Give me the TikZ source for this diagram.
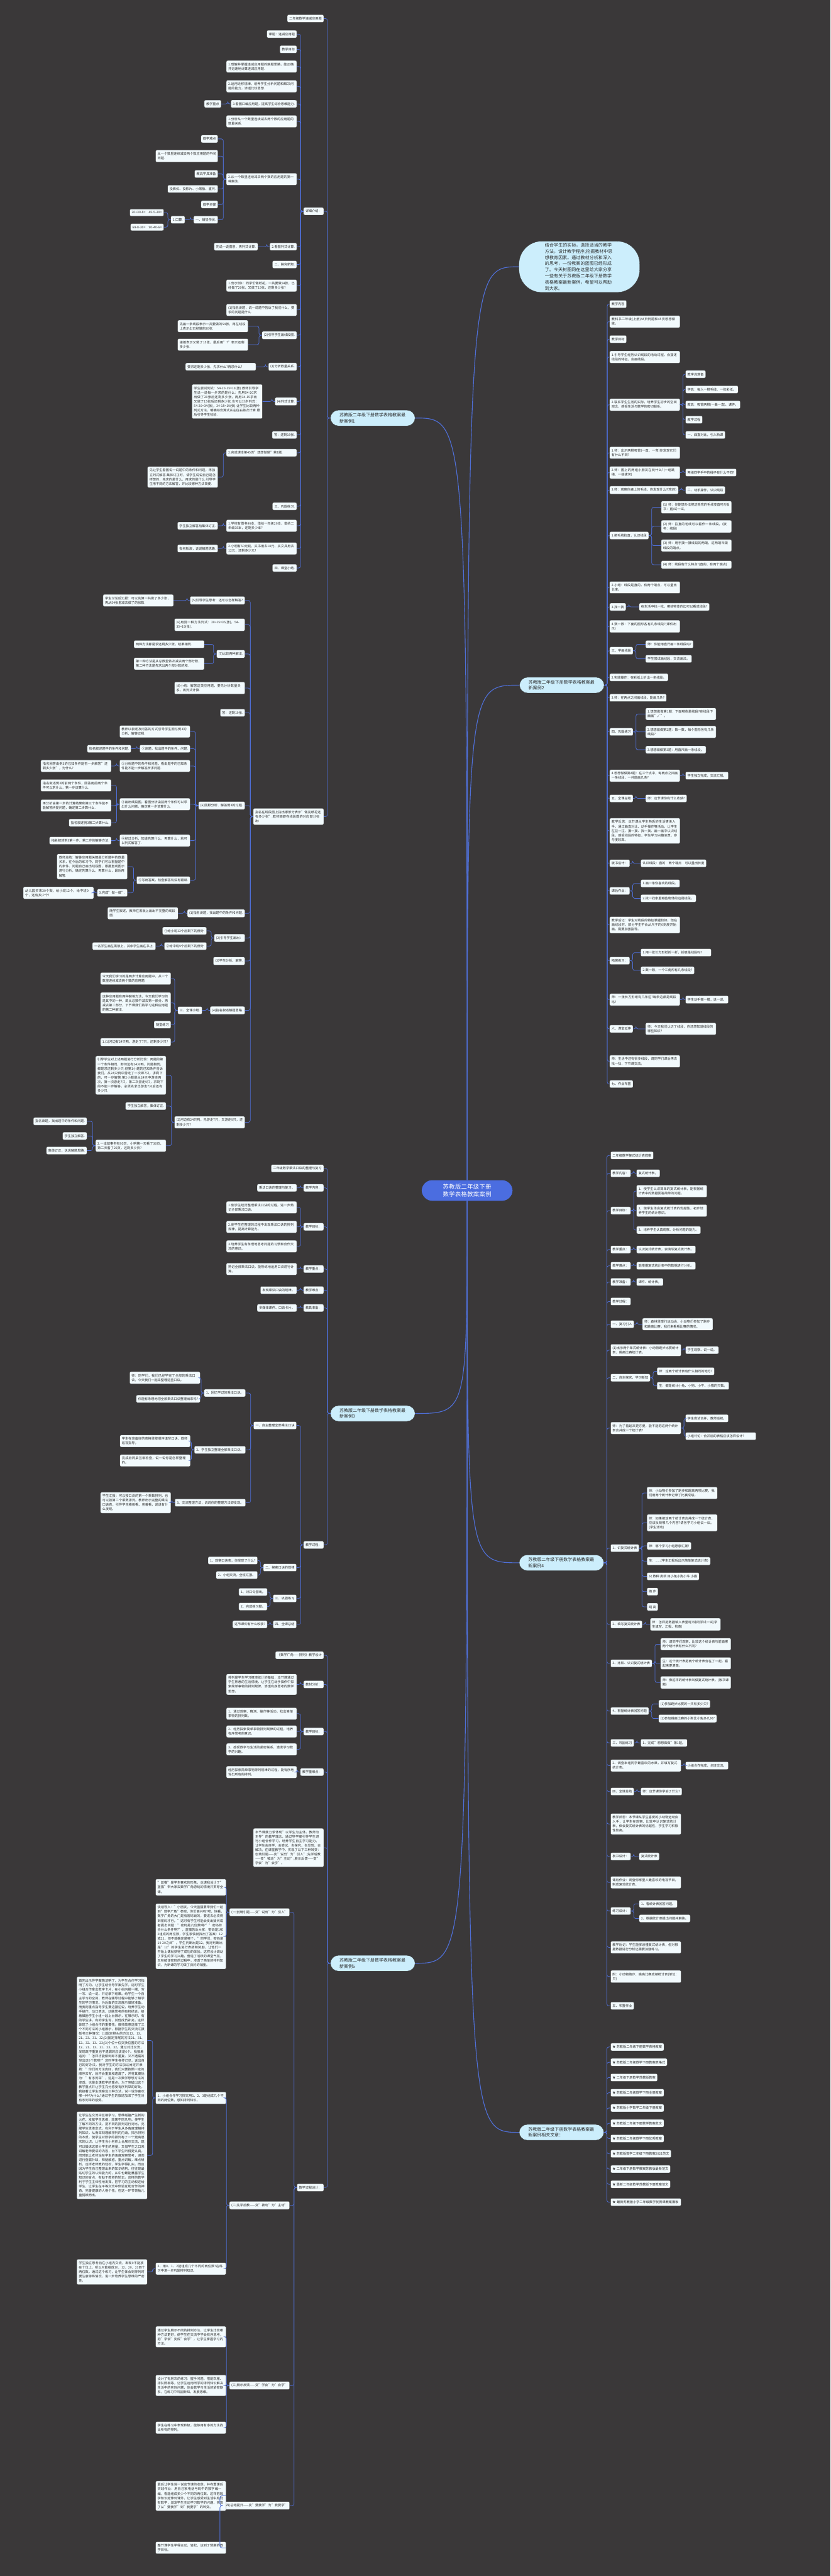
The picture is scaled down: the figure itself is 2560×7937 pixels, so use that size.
\documentclass[tikz,border=0pt]{standalone}
\usepackage{fontspec}
\setmainfont{Noto Sans CJK SC}
\XeTeXlinebreaklocale "zh"
\XeTeXlinebreakskip = 0pt plus 1pt
\usepackage{tikz}

\definecolor{bgc}{HTML}{3A3839}
\definecolor{linkc}{HTML}{4F6FD6}
\definecolor{leafc}{HTML}{F2FAFD}
\definecolor{brc}{HTML}{CCEEFC}
\definecolor{ctrc}{HTML}{4B6DE0}
\definecolor{txtc}{HTML}{2A2A2A}

\tikzset{
  leaf/.style={draw=black!75, line width=0.5pt, fill=leafc, rounded corners=4pt,
    inner xsep=6pt, inner ysep=7pt, font=\fontsize{10}{13.7}\selectfont, text=txtc, align=left},
  ww/.style={text width=205pt},
  wp/.style={text width=#1pt},
  lside/.style={anchor=east},
  rside/.style={anchor=west},
  branch/.style={fill=brc, draw=black!80, line width=0.6pt, rounded corners=25pt, text width=205pt,
    inner xsep=28pt, inner ysep=9pt, font=\fontsize{13.5}{18}\selectfont, text=txtc, align=left},
  intro/.style={branch, rounded corners=70pt, text width=212pt, inner xsep=80pt, inner ysep=6pt,
    font=\fontsize{13.5}{19}\selectfont},
  root/.style={fill=ctrc, rounded corners=33pt, text width=200pt, inner xsep=40pt, inner ysep=12pt,
    font=\fontsize{18}{23}\selectfont, text=white, align=center},
  link/.style={draw=linkc, line width=1.5pt, rounded corners=6pt},
  trunk/.style={draw=linkc, line width=2.2pt},
}

% connectors: parent -> children on the left / on the right
\newcommand{\linkl}[2]{\draw[link] (#1.west) -- ++(-9,0) |- (#2.east);}
\newcommand{\linkr}[2]{\draw[link] (#1.east) -- ++(9,0) |- (#2.west);}

\begin{document}
\begin{tikzpicture}[x=1pt, y=-1pt]
    \useasboundingbox[fill=bgc] (0,0) rectangle (2560,7937);

    % Root and main branches
    \node[root] (ctr) at (1440,3668) {苏教版二年级下册数学表格教案案例};
    \node[intro] (b0) at (1786,822) {结合学生的实际，选择适当的教学方法，设计教学程序;挖掘教材中思想教育因素。通过教材分析和深入的思考，一份教案的蓝图已经形成了。今天树图网在这里给大家分享一些有关于苏教版二年级下册数学表格教案最新案例，希望可以帮助到大家。};
    \node[branch] (b1) at (1149,1288) {苏教版二年级下册数学表格教案最新案例1};
    \node[branch] (b2) at (1732,2111) {苏教版二年级下册数学表格教案最新案例2};
    \node[branch] (b3) at (1149,4355) {苏教版二年级下册数学表格教案最新案例3};
    \node[branch] (b4) at (1731,4815) {苏教版二年级下册数学表格教案最新案例4};
    \node[branch] (b5) at (1149,6049) {苏教版二年级下册数学表格教案最新案例5};
    \node[branch] (b6) at (1731,6570) {苏教版二年级下册数学表格教案最新案例相关文章：};

    \draw[trunk] (ctr.north) .. controls (ctr.north |- b0.west) .. (b0.west);
    \draw[trunk] (ctr.north) .. controls (ctr.north |- b1.east) .. (b1.east);
    \draw[trunk] (ctr.north) .. controls (ctr.north |- b2.west) .. (b2.west);
    \draw[trunk] (ctr.south) .. controls (ctr.south |- b3.east) .. (b3.east);
    \draw[trunk] (ctr.south) .. controls (ctr.south |- b4.west) .. (b4.west);
    \draw[trunk] (ctr.south) .. controls (ctr.south |- b5.east) .. (b5.east);
    \draw[trunk] (ctr.south) .. controls (ctr.south |- b6.west) .. (b6.west);

    % Case 1 (left, top)
    \node[leaf,lside] (a1) at (998,57) {二年级数学连减应用题};
    \node[leaf,lside] (a2) at (998,651) {详细介绍：};
    \node[leaf,lside,ww] (a3) at (998,2516) {指名在线段图上指出哪部分表示"做完纸花还有多少张".教师随即在线段图的对应部分标出:};
    \foreach \c in {a1,a2,a3} {\linkl{b1}{\c}}

    \node[leaf,lside] (c01) at (915,105) {课题：连减应用题};
    \node[leaf,lside] (c02) at (915,152) {教学目标};
    \node[leaf,lside,ww] (c03) at (915,205) {1.理解并掌握连减应用题的解题思路，能正确并迅速地计算连减应用题.};
    \node[leaf,lside,ww] (c04) at (915,266) {2.运用迁移规律，培养学生分析问题和解决问题的能力，渗透比较思想.};
    \node[leaf,lside] (c05) at (915,320) {3.看图口编应用题，提高学生综合思维能力.};
    \node[leaf,lside,ww] (c06) at (915,374) {1.分析从一个数里连续减去两个数的应用题的数量关系.};
    \node[leaf,lside,ww] (c07) at (915,552) {2.从一个数里连续减去两个数的应用题的第一种解法.};
    \node[leaf,lside] (c08) at (915,760) {2.看图列式计算.};
    \node[leaf,lside] (c09) at (915,815) {二、探究新知.};
    \node[leaf,lside,ww] (c10) at (915,880) {1.出示例3：同学们做纸花，一共要做54张，已经做了20张，又做了15张，还剩多少张?};
    \node[leaf,lside,ww] (c11) at (915,955) {(1)指名读题，说一说题中告诉了我们什么，要求的问题是什么.};
    \node[leaf,lside] (c12) at (915,1033) {(2)引导学生画线段图.};
    \node[leaf,lside] (c13) at (915,1130) {(3)分析数量关系.};
    \node[leaf,lside] (c14) at (915,1237) {(4)列式计算.};
    \node[leaf,lside] (c15) at (915,1340) {答：还剩19张.};
    \node[leaf,lside,ww] (c16) at (915,1395) {2.完成课本第45页"想想做做"第1题.};
    \node[leaf,lside] (c17) at (915,1560) {三、巩固练习.};
    \node[leaf,lside,ww] (c18) at (915,1620) {1.学校有图书86本，借给一年级20本，借给二年级35本，还剩多少本?};
    \node[leaf,lside,ww] (c19) at (915,1690) {2.小明有50元钱，买书用去18元，买文具用去12元，还剩多少元?};
    \node[leaf,lside] (c20) at (915,1750) {四、课堂小结.};
    \foreach \c in {c01,c02,c03,c04,c05,c06,c07,c08,c09,c10,c11,c12,c13,c14,c15,c16,c17,c18,c19,c20} {\linkl{a2}{\c}}

    \node[leaf,lside] (c05a) at (682,320) {教学重点};
    \linkl{c05}{c05a}
    \node[leaf,lside] (d01) at (672,428) {教学难点};
    \node[leaf,lside,wp=180] (d02) at (672,481) {从一个数里连续减去两个数应用题的中间问题.};
    \node[leaf,lside] (d03) at (672,536) {教具学具准备};
    \node[leaf,lside] (d04) at (672,582) {投影仪、投影片、小黑板、直尺.};
    \node[leaf,lside] (d05) at (672,630) {教学步骤};
    \node[leaf,lside] (d06) at (672,677) {一、铺垫孕伏.};
    \foreach \c in {d01,d02,d03,d04,d05,d06} {\linkl{c07}{\c}}
    \node[leaf,lside] (d07) at (570,677) {1.口算.};
    \linkl{d06}{d07}
    \node[leaf,lside] (d08) at (505,655) {20+30-8=\quad 45-5-20=};
    \node[leaf,lside] (d09) at (505,700) {68-8-30=\quad 90-40-6=};
    \linkl{d07}{d08} \linkl{d07}{d09}
    \node[leaf,lside] (c08a) at (795,760) {先说一说图意，再列式计算.};
    \linkl{c08}{c08a}
    \node[leaf,lside,ww] (c12a) at (765,1005) {先画一条线段表示一共要做的54张，再在线段上表示出已经做的20张.};
    \node[leaf,lside,ww] (c12b) at (765,1062) {接着表示又做了15张，最后用"?"表示还剩多少张.};
    \linkl{c12}{c12a} \linkl{c12}{c12b}
    \node[leaf,lside,ww] (c13a) at (789,1130) {要求还剩多少张，先求什么?再求什么?};
    \linkl{c13}{c13a}
    \node[leaf,lside,ww] (p1) at (809,1237) {学生尝试列式：54-20-15=19(张).教师引导学生说一说每一步求的是什么：先用54-20求出做了20张后还剩多少张，再用34-15求出又做了15张后还剩多少张.也可以分步列式：54-20=34(张)，34-15=19(张).让学生比较两种列式方法，明确综合算式从左往右依次计算.最后引导学生检验.};
    \linkl{c14}{p1}
    \node[leaf,lside,ww] (p2) at (672,1470) {先让学生看图说一说题中的条件和问题，再独立列式解答.集体订正时，请学生说说自己是怎样想的，先求的是什么，再求的是什么.引导学生用不同的方法解答，并比较哪种方法简便.};
    \linkl{c16}{p2}
    \node[leaf,lside] (c18a) at (672,1620) {学生独立解答后集体订正.};
    \linkl{c18}{c18a}
    \node[leaf,lside] (c19a) at (672,1690) {指名板演，说说解题思路.};
    \linkl{c19}{c19a}

    \node[leaf,lside] (e01) at (755,1850) {(5)引导学生思考：还可以怎样解答?};
    \node[leaf,lside,ww] (e02) at (755,1925) {(6)用另一种方法列式：20+15=35(张)，54-35=19(张).};
    \node[leaf,lside] (e03) at (755,2015) {(7)比较两种解法.};
    \node[leaf,lside,ww] (e04) at (755,2120) {(8)小结：解答这类应用题，要先分析数量关系，再列式计算.};
    \node[leaf,lside] (e05) at (755,2196) {答：还剩19张.};
    \node[leaf,lside] (f0) at (755,2482) {(6)回顾分析、解答例3的过程.};
    \node[leaf,lside] (g1) at (755,2814) {(1)指名读题，找出题中的条件和问题.};
    \node[leaf,lside] (g2) at (755,2890) {(2)引导学生画出：};
    \node[leaf,lside] (g3) at (755,2961) {(3)学生分析、解答.};
    \node[leaf,lside] (g4) at (755,3113) {(4)指名叙述解题思路.};
    \node[leaf,lside,ww] (g6) at (755,3458) {(2)河边有24只鸭，先游走7只，又游走9只，还剩多少只?};
    \foreach \c in {e01,e02,e03,e04,e05,f0,g1,g2,g3,g4,g6} {\linkl{a3}{\c}}

    \node[leaf,lside,ww] (e01a) at (535,1850) {学生讨论后汇报：可以先算一共做了多少张，再从54张里减去做了的张数.};
    \linkl{e01}{e01a}
    \node[leaf,lside,ww] (e03a) at (630,1985) {两种方法都是求还剩多少张，结果相同.};
    \node[leaf,lside,ww] (e03b) at (630,2045) {第一种方法是从总数里依次减去两个部分数，第二种方法是先求出两个部分数的和.};
    \linkl{e03}{e03a} \linkl{e03}{e03b}

    \node[leaf,lside,ww] (f1) at (586,2254) {教师以叙述及问答的方式引导学生回忆例3的分析、解答过程.};
    \node[leaf,lside] (f2) at (586,2307) {①读题，找出题中的条件、问题.};
    \node[leaf,lside,ww] (f3) at (586,2360) {②分析题中的条件和问题，看由题中的已知条件能不能一步解答所求问题.};
    \node[leaf,lside,ww] (f4) at (586,2478) {③画出线段图，看图分析由前两个条件可以求出什么问题，确定第一步该算什么.};
    \node[leaf,lside,ww] (f5) at (586,2590) {④经过分析，知道先算什么，再算什么，就可以列式解答了.};
    \node[leaf,lside] (f6) at (586,2712) {⑤写出答案，检查解答有没有错误.};
    \foreach \c in {f1,f2,f3,f4,f5,f6} {\linkl{f0}{\c}}
    \node[leaf,lside] (f2a) at (404,2307) {指名叙述题中的条件和问题.};
    \linkl{f2}{f2a}
    \node[leaf,lside,ww] (f3a) at (343,2360) {指名回答由例3的已知条件能否一步解答"还剩多少张"，为什么?};
    \linkl{f3}{f3a}
    \node[leaf,lside,ww] (f4a) at (343,2420) {指名叙述例3的前两个条件，回答用前两个条件可以求什么，第一步该算什么.};
    \node[leaf,lside,ww] (f4b) at (343,2482) {再分析由第一步的计算结果和第三个条件能不能解答所提问题，确定第二步算什么.};
    \node[leaf,lside] (f4c) at (343,2535) {指名叙述例3第二步算什么.};
    \foreach \c in {f4a,f4b,f4c} {\linkl{f4}{\c}}
    \node[leaf,lside] (f5a) at (343,2590) {指名叙述例3第一步、第二步的解答方法.};
    \linkl{f5}{f5a}
    \node[leaf,lside,ww] (f6a) at (393,2670) {教师总结：解答应用题关键是分析题中的数量关系，在今后的练习中，同学们可以根据题中的条件、问题自己画出线段图，根据直观图示进行分析，确定先算什么，再算什么，最后再解答.};
    \node[leaf,lside] (f6b) at (393,2751) {3.完成"做一做".};
    \linkl{f6}{f6a} \linkl{f6}{f6b}
    \node[leaf,lside,ww] (f6c) at (289,2751) {幼儿园买来30个梨，给小班12个，给中班9个，还有多少个?};
    \linkl{f6b}{f6c}

    \node[leaf,lside,ww] (g1a) at (549,2814) {随学生叙述，教师在黑板上画出不完整的线段图.};
    \linkl{g1}{g1a}
    \node[leaf,lside] (g2a) at (637,2868) {①给小班12个后剩下的部分.};
    \node[leaf,lside] (g2b) at (637,2915) {②给中班9个后剩下的部分.};
    \linkl{g2}{g2a} \linkl{g2}{g2b}
    \node[leaf,lside] (g2c) at (480,2915) {一名学生画在黑板上，其余学生画在书上.};
    \linkl{g2b}{g2c}
    \node[leaf,lside] (g5) at (623,3113) {三、全课小结.};
    \linkl{g4}{g5}
    \node[leaf,lside,ww] (g5a) at (527,3015) {今天我们学习的是两步计算应用题中，从一个数里连续减去两个数的应用题.};
    \node[leaf,lside,ww] (g5b) at (527,3090) {这种应用题有两种解答方法，今天我们学习的是其中的一种，即从总数中减去第一部分，再减去第二部分，下节课我们将学习这种应用题的第二种解法.};
    \node[leaf,lside] (g5c) at (527,3157) {随堂练习};
    \node[leaf,lside,ww] (g5d) at (527,3211) {1.(1)河边有24只鸭，游走了7只，还剩多少只?};
    \foreach \c in {g5a,g5b,g5c,g5d} {\linkl{g5}{\c}}
    \node[leaf,lside,ww] (g6a) at (512,3313) {引导学生对上述两题进行分析比较：两题的第一个条件相同，即河边有24只鸭，问题相同，都是求还剩多少只.但第1小题的已知条件告诉我们，从24只鸭中游走了一次即7只，求剩下的，可一步解答.第2小题是从24只中游走两次，第一次游走7只，第二次游走9只，求剩下的不能一步解答，必须先求出游走7只后还有多少只.};
    \node[leaf,lside] (g6b) at (512,3408) {学生独立解答，集体订正.};
    \node[leaf,lside,ww] (g6c) at (512,3530) {2.一本故事书有95页，小明第一天看了30页，第二天看了25页，还剩多少页?};
    \foreach \c in {g6a,g6b,g6c} {\linkl{g6}{\c}}
    \node[leaf,lside] (g6d) at (268,3455) {指名读题，找出题中的条件和问题.};
    \node[leaf,lside] (g6e) at (268,3500) {学生独立解答.};
    \node[leaf,lside] (g6f) at (268,3545) {集体订正，说说解题思路.};
    \foreach \c in {g6d,g6e,g6f} {\linkl{g6c}{\c}}

    % Case 2 (right, top)
    \node[leaf,rside] (m01) at (1879,937) {教学内容};
    \node[leaf,rside,ww] (m02) at (1879,991) {教科书二年级(上册)44页例题和45页想想做做。};
    \node[leaf,rside] (m03) at (1879,1045) {教学目标};
    \node[leaf,rside,ww] (m04) at (1879,1100) {1.引导学生经历认识线段的活动过程，会描述线段的特征，会画线段。};
    \node[leaf,rside,ww] (m05) at (1879,1247) {2.联系学生生活的实际，培养学生初步的空间观念，感受生活与数学的密切联系。};
    \node[leaf,rside,ww] (m06) at (1879,1395) {1.师：出示两根吸管(一直、一弯)你发现它们有什么不同?};
    \node[leaf,rside,ww] (m07) at (1879,1456) {2.师：图上的两组小朋友在玩什么?(一组跳绳、一组拔河)};
    \node[leaf,rside] (m08) at (1879,1510) {3.师：观察你桌上的毛线，你发现什么?(弯的)};
    \node[leaf,rside] (m09) at (1879,1650) {1.把毛线拉直，认识线段};
    \node[leaf,rside,ww] (m10) at (1879,1810) {2.小结：线段是直的，有两个端点，可以量出长度。};
    \node[leaf,rside] (m11) at (1879,1870) {3.找一找};
    \node[leaf,rside,ww] (m12) at (1879,1930) {4.数一数：下面的图形各有几条线段?(课件出示)};
    \node[leaf,rside] (m13) at (1879,2005) {三、学画线段};
    \node[leaf,rside] (m14) at (1879,2087) {2.实践操作：在彩纸上折出一条线段。};
    \node[leaf,rside] (m15) at (1879,2150) {3.师：在两点之间画线段，能画几条?};
    \node[leaf,rside] (m16) at (1879,2255) {四、巩固练习};
    \node[leaf,rside,ww] (m17) at (1879,2390) {4.想想做做第4题：在三个点中，每两点之间画一条线段，一共能画几条?};
    \node[leaf,rside] (m18) at (1879,2460) {五、全课总结};
    \node[leaf,rside,ww] (m19) at (1879,2560) {教学反思：本节课从学生熟悉的生活情境入手，通过曲直对比、动手操作等活动，让学生在拉一拉、摸一摸、找一找、画一画中认识线段，感受线段的特征，学生学习兴趣浓厚，参与度较高。};
    \node[leaf,rside] (m20) at (1879,2660) {板书设计：};
    \node[leaf,rside] (m21) at (1879,2745) {课后作业：};
    \node[leaf,rside,ww] (m22) at (1879,2850) {教学后记：学生对线段的特征掌握较好，但在画线段时，部分学生不会从尺子的0刻度开始画，需要加强指导。};
    \node[leaf,rside] (m23) at (1879,2960) {拓展练习：};
    \node[leaf,rside,ww] (m24) at (1879,3080) {师：一张长方形纸有几条边?每条边都是线段吗?};
    \node[leaf,rside] (m25) at (1879,3170) {六、课堂延伸};
    \node[leaf,rside,ww] (m26) at (1879,3270) {师：生活中还有很多线段，请同学们课后再去找一找，下节课交流。};
    \node[leaf,rside] (m27) at (1879,3340) {七、作业布置};
    \foreach \c in {m01,m02,m03,m04,m05,m06,m07,m08,m09,m10,m11,m12,m13,m14,m15,m16,m17,m18,m19,m20,m21,m22,m23,m24,m25,m26,m27} {\linkr{b2}{\c}}

    \node[leaf,rside] (m05a) at (2113,1153) {教学具准备};
    \node[leaf,rside] (m05b) at (2113,1200) {学具：每人一根毛线、一张彩纸。};
    \node[leaf,rside] (m05c) at (2113,1247) {教具：吸管两根(一曲一直)、课件。};
    \node[leaf,rside] (m05d) at (2113,1293) {教学过程};
    \node[leaf,rside] (m05e) at (2113,1340) {一、曲直对比，引入新课};
    \foreach \c in {m05a,m05b,m05c,m05d,m05e} {\linkr{m05}{\c}}
    \node[leaf,rside] (m07a) at (2113,1456) {两组同学手中的绳子有什么不同?};
    \linkr{m07}{m07a}
    \node[leaf,rside] (m08a) at (2113,1510) {二、动手操作，认识线段};
    \linkr{m08}{m08a}
    \node[leaf,rside,ww] (m09a) at (2038,1563) {(1) 师：你能想办法把这根弯的毛线变直吗?(板书：直)试一试。};
    \node[leaf,rside,ww] (m09b) at (2038,1622) {(2) 师：拉直的毛线可以看作一条线段。(板书：线段)};
    \node[leaf,rside,ww] (m09c) at (2038,1681) {(3) 师：用手摸一摸线段的两端，这两端叫做线段的端点。};
    \node[leaf,rside,ww] (m09d) at (2038,1740) {(4) 师：线段有什么特点?(直的、有两个端点)};
    \foreach \c in {m09a,m09b,m09c,m09d} {\linkr{m09}{\c}}
    \node[leaf,rside] (m11a) at (1970,1870) {在生活中找一找，哪些物体的边可以看成线段?};
    \linkr{m11}{m11a}
    \node[leaf,rside] (m13a) at (1990,1985) {师：你能用直尺画一条线段吗?};
    \node[leaf,rside] (m13b) at (1990,2030) {学生尝试画线段，交流画法。};
    \linkr{m13}{m13a} \linkr{m13}{m13b}
    \node[leaf,rside,ww] (m16a) at (1990,2200) {1.想想做做第1题：下面哪些是线段?在线段下面画"√"。};
    \node[leaf,rside,ww] (m16b) at (1990,2255) {2.想想做做第2题：数一数，每个图形各有几条线段?};
    \node[leaf,rside] (m16c) at (1990,2310) {3.想想做做第3题：用直尺画一条线段。};
    \foreach \c in {m16a,m16b,m16c} {\linkr{m16}{\c}}
    \node[leaf,rside] (m17a) at (2113,2390) {学生独立完成，交流汇报。};
    \linkr{m17}{m17a}
    \node[leaf,rside] (m18a) at (1990,2460) {师：这节课你有什么收获?};
    \linkr{m18}{m18a}
    \node[leaf,rside] (m20a) at (1975,2660) {认识线段：直的\quad 两个端点\quad 可以量出长度};
    \linkr{m20}{m20a}
    \node[leaf,rside] (m21a) at (1975,2722) {1.画一条你喜欢的线段。};
    \node[leaf,rside] (m21b) at (1975,2768) {2.找一找家里哪些物体的边是线段。};
    \linkr{m21}{m21a} \linkr{m21}{m21b}
    \node[leaf,rside,ww] (m23a) at (1975,2935) {1.用一张长方形纸折一折，折痕是线段吗?};
    \node[leaf,rside] (m23b) at (1975,2990) {2.数一数，一个三角形有几条线段?};
    \linkr{m23}{m23a} \linkr{m23}{m23b}
    \node[leaf,rside] (m24a) at (2113,3080) {学生动手摸一摸，说一说。};
    \linkr{m24}{m24a}
    \node[leaf,rside,ww] (m25a) at (1990,3170) {师：今天我们认识了线段，你还想知道线段的哪些知识?};
    \linkr{m25}{m25a}

    % Case 3 (left, middle)
    \node[leaf,lside] (h1) at (998,3600) {二年级数学乘法口诀的整理与复习};
    \node[leaf,lside] (h2) at (998,3660) {教学内容：};
    \node[leaf,lside] (h3) at (998,3780) {教学目标：};
    \node[leaf,lside] (h4) at (998,3910) {教学重点：};
    \node[leaf,lside] (h5) at (998,3975) {教学难点：};
    \node[leaf,lside] (h6) at (998,4030) {教具准备：};
    \node[leaf,lside] (h7) at (998,4760) {教学过程：};
    \foreach \c in {h1,h2,h3,h4,h5,h6,h7} {\linkl{b3}{\c}}
    \node[leaf,lside] (h2a) at (915,3660) {乘法口诀的整理与复习。};
    \linkl{h2}{h2a}
    \node[leaf,lside,ww] (h3a) at (915,3720) {1.使学生经历整理乘法口诀的过程，进一步熟记全部乘法口诀。};
    \node[leaf,lside,ww] (h3b) at (915,3780) {2.使学生在整理的过程中发现乘法口诀的排列规律，提高计算能力。};
    \node[leaf,lside,ww] (h3c) at (915,3840) {3.培养学生有条理地思考问题的习惯和合作交流的意识。};
    \foreach \c in {h3a,h3b,h3c} {\linkl{h3}{\c}}
    \node[leaf,lside,ww] (h4a) at (915,3910) {熟记全部乘法口诀，能熟练地运用口诀进行计算。};
    \linkl{h4}{h4a}
    \node[leaf,lside] (h5a) at (915,3975) {发现乘法口诀的规律。};
    \linkl{h5}{h5a}
    \node[leaf,lside] (h6a) at (915,4030) {多媒体课件、口诀卡片。};
    \linkl{h6}{h6a}
    \node[leaf,lside] (i1) at (914,4392) {一、自主整理全部乘法口诀};
    \node[leaf,lside] (i2) at (914,4830) {二、探索口诀的规律};
    \node[leaf,lside] (i3) at (914,4925) {三、巩固练习};
    \node[leaf,lside] (i4) at (914,5005) {四、全课总结};
    \foreach \c in {i1,i2,i3,i4} {\linkl{h7}{\c}}
    \node[leaf,lside] (i1a) at (757,4292) {1、回忆学过的乘法口诀。};
    \node[leaf,lside] (i1b) at (757,4467) {2、学生独立整理全部乘法口诀。};
    \node[leaf,lside] (i1c) at (757,4630) {3、交流整理方法，说说你的整理方法即发现。};
    \foreach \c in {i1a,i1b,i1c} {\linkl{i1}{\c}}
    \node[leaf,lside,ww] (i1a1) at (617,4245) {师：同学们，我们已经学完了全部的乘法口诀，今天我们一起来整理这些口诀。};
    \node[leaf,lside] (i1a2) at (617,4310) {你能有条理地把全部乘法口诀整理出来吗?};
    \linkl{i1a}{i1a1} \linkl{i1a}{i1a2}
    \node[leaf,lside,ww] (i1b1) at (587,4440) {学生在准备好的表格里按顺序填写口诀，教师巡视指导。};
    \node[leaf,lside,ww] (i1b2) at (587,4500) {完成后同桌互相检查，说一说你是怎样整理的。};
    \linkl{i1b}{i1b1} \linkl{i1b}{i1b2}
    \node[leaf,lside,ww] (i1c1) at (527,4630) {学生汇报：可以按口诀的第一个乘数排列，也可以按第二个乘数排列。教师出示完整的乘法口诀表，引导学生横着看、竖着看，说说有什么发现。};
    \linkl{i1c}{i1c1}
    \node[leaf,lside] (i2a) at (794,4808) {1、观察口诀表，你发现了什么?};
    \node[leaf,lside] (i2b) at (794,4853) {2、小组交流，全班汇报。};
    \linkl{i2}{i2a} \linkl{i2}{i2b}
    \node[leaf,lside] (i3a) at (824,4905) {1、对口令游戏。};
    \node[leaf,lside] (i3b) at (824,4950) {2、完成练习题。};
    \linkl{i3}{i3a} \linkl{i3}{i3b}
    \node[leaf,lside] (i4a) at (824,5005) {这节课你有什么收获?};
    \linkl{i4}{i4a}

    % Case 4 (right, middle)
    \node[leaf,rside] (n01) at (1882,3560) {二年级数学复式统计表教案};
    \node[leaf,rside] (n02) at (1882,3615) {教学内容：};
    \node[leaf,rside] (n03) at (1882,3730) {教学目标：};
    \node[leaf,rside] (n04) at (1882,3850) {教学重点：};
    \node[leaf,rside] (n05) at (1882,3900) {教学难点：};
    \node[leaf,rside] (n06) at (1882,3950) {教学准备：};
    \node[leaf,rside] (n07) at (1882,4010) {教学过程：};
    \node[leaf,rside] (n08) at (1882,4080) {一、复习引入};
    \node[leaf,rside,ww] (n09) at (1882,4160) {(1)出示两个单式统计表：小动物跑步比赛统计表、跳高比赛统计表。};
    \node[leaf,rside] (n10) at (1882,4245) {二、自主探究，学习新知};
    \node[leaf,rside,ww] (n11) at (1882,4400) {师：为了看起来更方便，能不能把这两个统计表合并成一个统计表?};
    \node[leaf,rside] (n12) at (1882,4770) {1、识复式统计表};
    \node[leaf,rside] (n13) at (1882,5005) {2、填写复式统计表};
    \node[leaf,rside] (n14) at (1882,5125) {3、比较、认识复式统计表};
    \node[leaf,rside] (n15) at (1882,5272) {4、根据统计表回答问题};
    \node[leaf,rside] (n16) at (1882,5370) {三、巩固练习};
    \node[leaf,rside,ww] (n17) at (1882,5440) {2、调查本组同学最喜欢的水果，并填写复式统计表。};
    \node[leaf,rside] (n18) at (1882,5520) {四、全课总结};
    \node[leaf,rside,ww] (n19) at (1882,5620) {教学反思：本节课从学生喜爱的小动物运动会入手，让学生在观察、比较中认识复式统计表，体会复式统计表的优越性，学生学习积极性较高。};
    \node[leaf,rside] (n20) at (1882,5720) {板书设计：};
    \node[leaf,rside,ww] (n21) at (1882,5800) {课后作业：调查你家里人最喜欢的电视节目，制成复式统计表。};
    \node[leaf,rside] (n22) at (1882,5888) {练习设计：};
    \node[leaf,rside,ww] (n23) at (1882,6000) {教学后记：学生能够读懂复式统计表，但对根据数据进行分析还需要加强练习。};
    \node[leaf,rside,ww] (n24) at (1882,6090) {附：小动物跑步、跳高比赛成绩统计表(单位：只)};
    \node[leaf,rside] (n25) at (1882,6180) {五、布置作业};
    \foreach \c in {n01,n02,n03,n04,n05,n06,n07,n08,n09,n10,n11,n12,n13,n14,n15,n16,n17,n18,n19,n20,n21,n22,n23,n24,n25} {\linkr{b4}{\c}}

    \node[leaf,rside] (n02a) at (1962,3615) {复式统计表。};
    \linkr{n02}{n02a}
    \node[leaf,rside,ww] (n03a) at (1962,3670) {1、使学生认识简单的复式统计表，能根据统计表中的数据回答简单的问题。};
    \node[leaf,rside,ww] (n03b) at (1962,3730) {2、使学生体会复式统计表的优越性，初步培养学生的统计意识。};
    \node[leaf,rside] (n03c) at (1962,3790) {3、培养学生认真观察、分析问题的能力。};
    \foreach \c in {n03a,n03b,n03c} {\linkr{n03}{\c}}
    \node[leaf,rside] (n04a) at (1962,3850) {认识复式统计表，会填写复式统计表。};
    \linkr{n04}{n04a}
    \node[leaf,rside] (n05a) at (1962,3900) {能根据复式统计表中的数据进行分析。};
    \linkr{n05}{n05a}
    \node[leaf,rside] (n06a) at (1962,3950) {课件、统计表。};
    \linkr{n06}{n06a}
    \node[leaf,rside,ww] (n08a) at (1980,4080) {师：森林里举行运动会，小动物们参加了跑步和跳高比赛，我们来看看比赛的情况。};
    \linkr{n08}{n08a}
    \node[leaf,rside] (n09a) at (2113,4160) {学生观察、说一说。};
    \linkr{n09}{n09a}
    \node[leaf,rside] (n10a) at (2025,4225) {师：这两个统计表有什么相同的地方?};
    \node[leaf,rside] (n10b) at (2025,4270) {生：都是统计小兔、小狗、小牛、小猫的只数。};
    \linkr{n10}{n10a} \linkr{n10}{n10b}
    \node[leaf,rside] (n11a) at (2113,4370) {学生尝试合并，教师巡视。};
    \node[leaf,rside,ww] (n11b) at (2113,4425) {小组讨论：合并后的表格应该怎样设计?};
    \linkr{n11}{n11a} \linkr{n11}{n11b}
    \node[leaf,rside,ww] (n12a) at (1994,4600) {师：小动物们参加了跑步和跳高两项比赛，我们用两个统计表记录了比赛成绩。};
    \node[leaf,rside,ww] (n12c) at (1994,4692) {师：如果把这两个统计表合并成一个统计表，应该反映哪几个内容?请各学习小组议一议。(学生活动)};
    \node[leaf,rside] (n12d) at (1994,4763) {师：哪个学习小组愿意汇报?};
    \node[leaf,rside] (n12e) at (1994,4810) {生：......(学生汇报后出示简单复式统计表)};
    \node[leaf,rside] (n12f) at (1994,4857) {只 数种 类项 目小兔小狗小牛 小猫};
    \node[leaf,rside] (n12g) at (1994,4904) {跑 步};
    \node[leaf,rside] (n12h) at (1994,4951) {跳 高};
    \foreach \c in {n12a,n12c,n12d,n12e,n12f,n12g,n12h} {\linkr{n12}{\c}}
    \node[leaf,rside,ww] (n13a) at (2004,5005) {师：怎样把数据填入表里呢?请同学试一试(学生填写、汇报、检查)};
    \linkr{n13}{n13a}
    \node[leaf,rside,ww] (n14a) at (2036,5066) {师：请同学们观察、比较这个统计表与前面哪两个统计表有什么不同?};
    \node[leaf,rside,ww] (n14b) at (2036,5125) {生：这个统计表把两个统计表合在了一起，看起来更清楚。};
    \node[leaf,rside,ww] (n14c) at (2036,5184) {师：像这样的统计表叫做复式统计表。(板书课题)};
    \foreach \c in {n14a,n14b,n14c} {\linkr{n14}{\c}}
    \node[leaf,rside] (n15a) at (2030,5250) {(1)参加跑步比赛的一共有多少只?};
    \node[leaf,rside] (n15b) at (2030,5295) {(2)参加跳高比赛的小狗比小兔多几只?};
    \linkr{n15}{n15a} \linkr{n15}{n15b}
    \node[leaf,rside] (n16a) at (1975,5370) {1、完成"想想做做"第1题。};
    \linkr{n16}{n16a}
    \node[leaf,rside] (n17a) at (2113,5440) {小组合作完成，全班交流。};
    \linkr{n17}{n17a}
    \node[leaf,rside] (n18a) at (1975,5520) {师：这节课你学会了什么?};
    \linkr{n18}{n18a}
    \node[leaf,rside] (n20a) at (1970,5720) {复式统计表};
    \linkr{n20}{n20a}
    \node[leaf,rside] (n22a) at (1970,5866) {1、看统计表回答问题。};
    \node[leaf,rside] (n22b) at (1970,5911) {2、根据统计表提出问题并解答。};
    \linkr{n22}{n22a} \linkr{n22}{n22b}

    % Case 5 (left, bottom)
    \node[leaf,lside] (j1) at (998,5100) {《数学广角——排列》教学设计};
    \node[leaf,lside] (j2) at (998,5190) {教材分析：};
    \node[leaf,lside] (j3) at (998,5335) {教学目标：};
    \node[leaf,lside] (j4) at (998,5460) {教学重难点：};
    \node[leaf,lside,ww] (j5) at (998,5693) {本节课我力求体现"以学生为主体，教师为主导"的教学理念，通过导学案引导学生进行小组合作学习，培养学生自主学习能力。让学生会自学、会尝试、去探究、去发现、去解决。在课堂教学中，实现了以下三种转变：创境引题——变"说出"为"引入";先学后教——变"被动"为"主动";展示反馈——变"学会"为"会学"。};
    \node[leaf,lside] (j6) at (998,6740) {教学过程设计：};
    \foreach \c in {j1,j2,j3,j4,j5,j6} {\linkl{b5}{\c}}
    \node[leaf,lside,ww] (j2a) at (915,5190) {排列是学生学习概率统计的基础，本节课通过学生熟悉的生活情境，让学生在动手操作中探索简单事物的排列规律，渗透有序思考的数学思想。};
    \linkl{j2}{j2a}
    \node[leaf,lside,ww] (j3a) at (915,5280) {1、通过观察、猜测、操作等活动，找出简单事物的排列数。};
    \node[leaf,lside,ww] (j3b) at (915,5335) {2、经历探索简单事物排列规律的过程，培养有序思考的意识。};
    \node[leaf,lside,ww] (j3c) at (915,5390) {3、感受数学与生活的紧密联系，激发学习数学的兴趣。};
    \foreach \c in {j3a,j3b,j3c} {\linkl{j3}{\c}}
    \node[leaf,lside,ww] (j4a) at (915,5460) {经历探索简单事物排列规律的过程，能有序地写出所有的排列。};
    \linkl{j4}{j4a}
    \node[leaf,lside] (k1) at (893,5892) {(一)创境引题——变"说出"为"引入"};
    \node[leaf,lside] (k2) at (893,6795) {(二)先学后教——变"被动"为"主动"};
    \node[leaf,lside] (k3) at (893,7350) {(三)展示反馈——变"学会"为"会学"};
    \node[leaf,lside] (k4) at (893,7720) {(四)总结提升——变"要我学"为"我要学"};
    \foreach \c in {k1,k2,k3,k4} {\linkl{j6}{\c}}
    \node[leaf,lside,ww] (k1a) at (697,5815) {"蓝猫"是学生喜欢的形象，本课我设计了"蓝猫"带大家去数学广角游玩的情境并贯穿全课。};
    \node[leaf,lside,ww] (k1b) at (697,5966) {谈话导入："小朋友，今天蓝猫要带我们一起到"数学广角"参观，你们高兴吗?哎，快看，数学广角的大门是有密码锁的，要进去必须得到密码才行。"这时有学生可能会发出疑问或者提出问题："密码是几位数啊?""密码符合什么条件啊?"，蓝猫告诉大家：密码是1和2组成的两位数，学生很快就找出了答案：12或21，但不能确定是哪个，"同学们，密码是10-20之间"，学生判断出是12。我对判断出是"12"的学生进行表扬和奖励，让他们一开始上课就获得了成功的体验。这样设计调动了学生的学习兴趣，营造了活跃的课堂气氛，又在破译密码的过程中，渗透了简单的排列知识，为新课的学习做了良好的铺垫。};
    \linkl{k1}{k1a} \linkl{k1}{k1b}
    \node[leaf,lside,ww] (k2a) at (697,6464) {1、小组合作学习探究用1、2、3能组成几个不同的两位数，感知排列知识。};
    \node[leaf,lside,ww] (k2b) at (697,6990) {2、用0、1、2能组成几个不同的两位数?在练习中进一步巩固排列知识。};
    \linkl{k2}{k2a} \linkl{k2}{k2b}
    \node[leaf,lside,ww] (k2a1) at (454,6287) {首先出示导学案简洁明了，为学生合作学习指明了方向，让学生结合导学案先学。这时学生小组合作拿出数字卡片，在小组内摆一摆、写一写、说一说，并记录下结果。给学生一个自主学习的空间，教师在辅导过程中能够了解学生的学习情况，为后面的交流展示做好准备。而我则重点指导学生要边摆边说，培养学生动手操作、动口表达、动脑思考的有机结合。接着鼓励学生小组一起上台展示，在展示时，有的学生讲，有的学生写，其他成员补充，这样体现了小组合作的重要性。教师故意选择了三个不同方法的小组展示，根据学生的交流汇报板书三种情况：(1)固定排头的方法12、13、21、23、31、32;(2)固定排尾的方法21、31、12、32、13、23;(3)个位十位交换位置的方法12、21、13、31、23、32。通过对比交流，发现既不重复也不遗漏的应该是6个。我接着追问："怎样才能做到即不重复、又不遗漏的写出这6个数呢?"这时学生各抒己见，说出自己的好办法，我对学生的方法加以肯定并表扬："你们的方法真好，我们只要按照一定的顺序去写，就不会重复和遗漏了，并将其概括为："有序列举"，这是一次数学思想方法的渗透，也是本课教学的重点。为了突破出这个教学重点并让学生充分感受有序列举的好处，我接着让学生观察这三种方法，说一说你喜欢哪一种?为什么?通过学生的叙述加深了学生对有序列举的感受。};
    \node[leaf,lside,ww] (k2a2) at (454,6641) {让学生在交流中互相学习，思维碰撞产生新的火花，发散学生思维，效果不同凡响。使学生了解不同的方法，把不同的排列进行对比，克服学生思维定式，有利于学生从多角度理解排列知识，从而深刻理解排列的内涵，揭示排列的本质，使学生对数字的排列有了一个更高层次的认识。让学生当小老师上台展示交流，既可以锻炼这部分学生的胆量，又借学生之口来讲解老师要讲的内容，台下学生听得更认真，同时能让老师站在学生的角度观察思考，进而进行查漏补缺，释疑解惑，重点讲解，难点辨析，这样老师教的轻松，学生学得扎实。而且因为学生自己整理出来的知识结构，往往是最贴切学生的认知能力的，从中也最能暴露学生知识的盲点，有助于教师的矫正。这样的教学利于学生主体性地发挥，把学习的主动权还给学生，让学生在平等交流中体验互助合作的神奇。完善健康的人格个性。在这一环节领袖儿童脱颖而出。};
    \linkl{k2a}{k2a1} \linkl{k2a}{k2a2}
    \node[leaf,lside,ww] (k2b1) at (454,7000) {学生独立思考后在小组内交流，发现0不能放在十位上，所以只能组成10、12、20、21四个两位数。通过这个练习，让学生体会到排列时要注意特殊情况，进一步培养学生思维的严密性。};
    \linkl{k2b}{k2b1}
    \node[leaf,lside,ww] (k3a) at (697,7200) {通过学生展示不同的排列方法，让学生比较哪种方法更好，使学生在交流中学会有序思考，把"学会"变成"会学"，让学生掌握学习的方法。};
    \node[leaf,lside,ww] (k3b) at (697,7350) {设计了有层次的练习：握手问题、搭配衣服、排队照相等，让学生运用所学的排列知识解决生活中的实际问题，体会数学与生活的紧密联系，在练习中巩固新知，发展思维。};
    \node[leaf,lside,ww] (k3c) at (697,7480) {学生在练习中表现积极，能够用有序的方法找出所有的排列。};
    \foreach \c in {k3a,k3b,k3c} {\linkl{k3}{\c}}
    \node[leaf,lside,ww] (k4a) at (697,7690) {最后让学生说一说这节课的收获，并布置课后实践作业：用自己家电话号码中的数字编一编，看能组成多少个不同的两位数。这样把数学知识延伸到课外，让学生感受到生活中处处有数学，激发学生主动学习数学的兴趣，实现了从"要我学"到"我要学"的转变。};
    \node[leaf,lside,ww] (k4b) at (697,7850) {整节课学生学得主动、轻松，达到了预期的教学目标。};
    \linkl{k4}{k4a} \linkl{k4}{k4b}

    % Related articles (right, bottom)
    \node[leaf,rside] (o1) at (1882,6307) {★ 苏教版二年级下册数学表格教案};
    \node[leaf,rside] (o2) at (1882,6354) {★ 苏教版二年级数学下册教案表格式};
    \node[leaf,rside] (o3) at (1882,6401) {★ 二年级下册数学苏教版教案};
    \node[leaf,rside] (o4) at (1882,6448) {★ 苏教版二年级数学下册全册教案};
    \node[leaf,rside] (o5) at (1882,6495) {★ 苏教版小学数学二年级下册教案};
    \node[leaf,rside] (o6) at (1882,6542) {★ 苏教版二年级下册数学教案范文};
    \node[leaf,rside] (o7) at (1882,6589) {★ 苏教版二年级数学下册优秀教案};
    \node[leaf,rside] (o8) at (1882,6636) {★ 苏教版数学二年级下册教案2021范文};
    \node[leaf,rside] (o9) at (1882,6683) {★ 二年级下册数学教案苏教版最新范文};
    \node[leaf,rside] (o10) at (1882,6730) {★ 最新二年级数学苏教版下册教案范文};
    \node[leaf,rside,ww] (o11) at (1882,6785) {★ 最新苏教版小学二年级数学优质课教案模板};
    \foreach \c in {o1,o2,o3,o4,o5,o6,o7,o8,o9,o10,o11} {\linkr{b6}{\c}}

\end{tikzpicture}
\end{document}
